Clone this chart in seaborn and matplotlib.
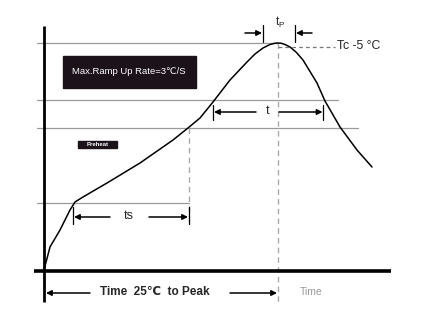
import matplotlib
matplotlib.use("Agg")
import matplotlib.pyplot as plt
import seaborn as sns
import pandas as pd

# Reflow profile curve (time units, temperature units; origin at axis corner)
time_pts = [0, 6, 16, 26, 31, 39, 63, 96, 129, 144, 156, 169, 186, 203, 211, 219, 226, 231, 234, 237, 241, 246, 252, 259, 273, 281, 296, 313, 328]
temp_pts = [1, 24, 41, 61, 69, 74, 88, 108, 131, 143, 153, 169, 191, 209, 217, 223, 226.5, 227.8, 228, 227.8, 226.5, 224, 219, 211, 188, 170, 144, 121, 104]

# Reference temperature levels and their right ends
levels = [228, 171, 143, 68]
level_ends = [234, 294, 314, 145]

# Labels
box_label = "Max.Ramp Up Rate=3℃/S"
preheat_label = "Preheat"
tc_label = "Tc -5 °C"
axis_label = "Time  25℃  to Peak"
time_label = "Time"

sns.set_style("white")
plt.rcParams['font.family'] = ['Liberation Sans', 'DejaVu Sans']

fig = plt.figure(figsize=(4.31, 3.12), dpi=100)
ax = fig.add_axes([0, 0, 1, 1])

df = pd.DataFrame({"time": time_pts, "temp": temp_pts})
sns.lineplot(data=df, x="time", y="temp", ax=ax, color="black", lw=1.1,
             estimator=None, sort=False)

ax.set_xlim(-44, 387)
ax.set_ylim(-41, 271)
ax.axis("off")

# reference levels
for lv, end in zip(levels, level_ends):
    ax.plot([-7, end], [lv, lv], color="#9a9a9a", lw=0.9, zorder=1)

# dashed verticals
ax.plot([145, 145], [143, 49], color="#aaaaaa", lw=1.0, ls=(0, (4, 3)), zorder=1)
ax.plot([234, 234], [228, -31], color="#aaaaaa", lw=1.0, ls=(0, (4, 3)), zorder=1)

# axes
ax.plot([0, 0], [245, -31], color="black", lw=2.0, solid_capstyle="butt", zorder=3)
ax.plot([-10, 347], [0, 0], color="black", lw=2.6, solid_capstyle="butt", zorder=3)

# Tc dashed line and label
ax.plot([234, 291], [224, 224], color="#777777", lw=0.9, ls=(0, (3, 2.5)))
ax.text(293, 225, tc_label, fontsize=8.8, va="center", ha="left", color="#222222")

arrow_kw = dict(arrowstyle="-|>", lw=1.1, color="black", mutation_scale=8,
                shrinkA=0, shrinkB=0)

def arr(x0, x1, y):
    ax.annotate("", xy=(x1, y), xytext=(x0, y), arrowprops=arrow_kw)

def tick(x, y0, y1):
    ax.plot([x, x], [y0, y1], color="black", lw=0.9)

# tp
tick(219, 229, 246)
tick(251, 229, 246)
arr(201, 218, 238)
arr(268, 252, 238)
ax.text(236, 249, "t$_\\mathregular{P}$", fontsize=8.5, ha="center", va="center")

# t
tick(169, 151, 166)
tick(279.5, 151, 166)
arr(212, 170, 159)
arr(235, 278.5, 159)
ax.text(224, 160, "t", fontsize=9, ha="center", va="center")

# ts
tick(29, 47, 64)
tick(145, 47, 64)
arr(66, 30, 54)
arr(105, 144, 54)
ax.text(85, 55, "ts", fontsize=9, ha="center", va="center")

# bottom time arrows
arr(46, 2, -22)
arr(186, 233, -22)
ax.text(111, -21, axis_label, fontsize=8.5, ha="center", va="center",
        fontweight="bold", family=["Liberation Sans Narrow", "Liberation Sans", "DejaVu Sans"])
ax.text(267, -21, time_label, fontsize=7.5, ha="center", va="center", color="#999999")

# boxes
ax.add_patch(plt.Rectangle((19, 183), 133, 32, color="#1c1219", zorder=2))
ax.text(84.5, 199, box_label, fontsize=6.8, color="white", ha="center", va="center", zorder=4)
ax.add_patch(plt.Rectangle((34, 123), 39, 7, color="#1c1219", zorder=2))
ax.text(54, 126.5, preheat_label, fontsize=4.3, color="white", ha="center", va="center",
        fontweight="bold", zorder=4)

fig.savefig("out.png", dpi=100)
